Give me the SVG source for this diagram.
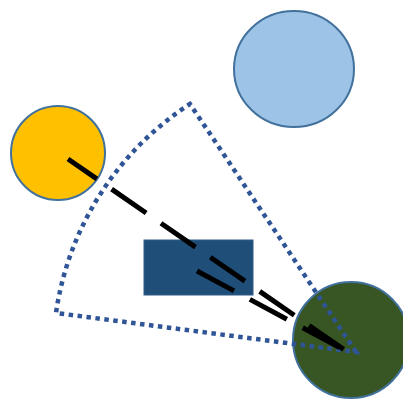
<svg xmlns="http://www.w3.org/2000/svg" width="403" height="401" viewBox="0 0 403 401">
  <style>
    .node { stroke: #41719C; stroke-width: 2; }
    .sector { fill: none; stroke: #2F5597; stroke-width: 4.5; stroke-dasharray: 4.5 4.5; }
    .dash { fill: none; stroke: #000; stroke-width: 5; stroke-dasharray: 42 18; }
  </style>
  <rect width="403" height="401" fill="#fff"/>

  <g id="sun">
    <circle class="node" cx="58" cy="153" r="47" fill="#FFC000"/>
  </g>
  <g id="sky">
    <ellipse class="node" cx="294" cy="69" rx="60" ry="58" fill="#9DC3E6"/>
  </g>
  <g id="block">
    <rect x="144" y="240" width="109" height="55" fill="#1F4E79" stroke="#2E5D8A" stroke-width="1"/>
  </g>
  <g id="earth">
    <circle class="node" cx="351" cy="340" r="58" fill="#375623"/>
  </g>

  <g id="connectors">
    <path class="sector" d="M356,352 L190,104 A300,300 0 0 0 56,313 Z"/>
    <line class="dash" x1="68" y1="159" x2="346" y2="351" stroke-dashoffset="7"/>
    <line class="dash" x1="197" y1="271" x2="346" y2="351"/>
  </g>
</svg>
